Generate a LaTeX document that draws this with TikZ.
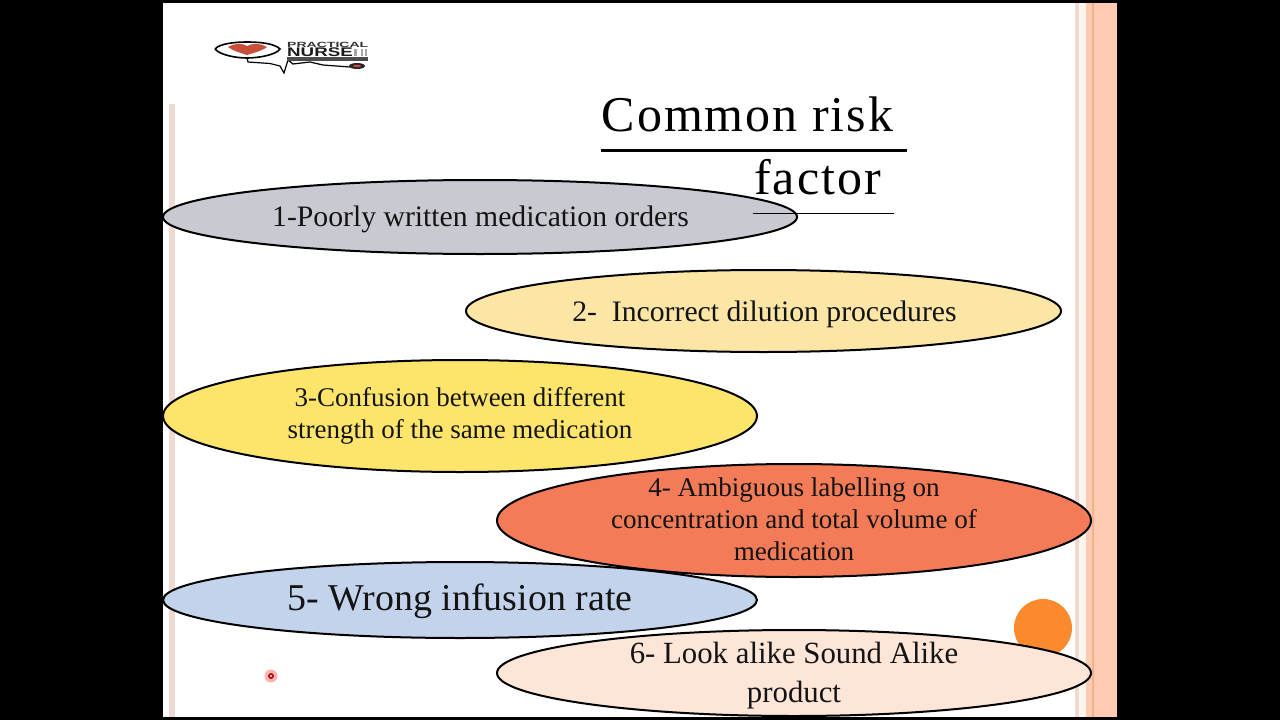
\documentclass[tikz,border=0pt]{standalone}
\usetikzlibrary{shapes.geometric}
\usepackage{fontspec}
\setmainfont{Liberation Serif}
\newfontfamily\logofont{Liberation Sans}
\definecolor{c1}{HTML}{C9C9D1}
\definecolor{c2}{HTML}{FBE6A6}
\definecolor{c3}{HTML}{FDE56C}
\definecolor{c4}{HTML}{F47B58}
\definecolor{c5}{HTML}{C4D3EC}
\definecolor{c6}{HTML}{FDE5D8}
\definecolor{stripeA}{HTML}{EEDAD2}
\definecolor{stripeB}{HTML}{FDCBB2}
\definecolor{stripeC}{HTML}{F3B28F}
\definecolor{stripeD}{HTML}{FFF6F0}
\definecolor{dotc}{HTML}{FB8A2E}
\definecolor{heartc}{HTML}{C8503A}
\begin{document}
\begin{tikzpicture}[x=1pt,y=-1pt,
  oval/.style={ellipse,draw=black,line width=2pt,inner sep=0pt,outer sep=0pt},
  ovaltext/.style={inner sep=0pt,align=center,text=black!92},
  rule/.style={draw=black,line width=3pt},
  thinrule/.style={draw=black,line width=1.8pt},
  titletext/.style={font=\addfontfeature{LetterSpace=4}\fontsize{50}{54}\selectfont,text=black,inner sep=0pt,anchor=base},
  logotext/.style={inner sep=0pt,anchor=west,text=black!80},
]
\useasboundingbox (0,0) rectangle (1280,720);
\fill[black] (0,0) rectangle (1280,720);
\fill[white] (163,3) rectangle (1117,717);
% right-hand stripes
\fill[stripeA] (1075,3) rectangle (1079,717);
\fill[stripeD] (1079,3) rectangle (1086,717);
\fill[stripeB] (1086,3) rectangle (1117,717);
\fill[stripeC] (1092,3) rectangle (1094,717);
% left-hand stripe
\fill[stripeA] (169,104) rectangle (175,717);
% logo
\draw[black,line width=1.6pt] (215,49) .. controls (220,43) and (238,42) .. (247,42) .. controls (258,42) and (274,43) .. (280,49) .. controls (276,55) and (258,58) .. (247,58) .. controls (236,58) and (220,55) .. (215,49);
\fill[heartc] (228,47) .. controls (234,43) and (243,43) .. (247,46) .. controls (252,43) and (261,43) .. (267,47) .. controls (262,51) and (253,53) .. (247,55) .. controls (241,53) and (233,51) .. (228,47);
\draw[black,line width=1.2pt] (247,58) -- (248,62) -- (270,63.5) -- (280,66) -- (284,73) -- (288,60) -- (293,64) -- (310,62) -- (323,65) -- (350,67);
\fill[black!85] (357,66) ellipse (8 and 3);
\fill[heartc] (357,66) ellipse (4 and 1.2);
\node[logotext,font=\logofont\bfseries\fontsize{7.5}{8}\selectfont] (logoa) at (287,44.5) {\scalebox{1.87}[1]{PRACTICAL}};
\node[logotext,font=\logofont\bfseries\fontsize{12.5}{13}\selectfont,text=black!90] (logob) at (287,52) {\scalebox{1.5}[1]{NURSE}};
\fill[black!70] (287,57) rectangle (368,61);
\fill[black!35] (354,48.5) rectangle (357,55.5);
\fill[black!35] (361,48.5) rectangle (363,55.5);
\fill[black!35] (365,48.5) rectangle (367,55.5);
% title
\node[titletext] (t1) at (747.5,131.5) {Common risk};
\node[titletext] (t2) at (817.5,194.5) {factor};
\draw[rule] (601,150) -- (907,150);
% decorative circle
\fill[dotc] (1043,628) circle (29);
% ovals
\node[oval,fill=c1,minimum width=634,minimum height=74] (o1) at (480,217) {};
\node[ovaltext,font=\fontsize{29.7}{34}\selectfont] (l1) at (480.5,219) {1-Poorly written medication orders};
\draw[thinrule] (753,213.5) -- (894,213.5);
\node[oval,fill=c2,minimum width=595,minimum height=82] (o2) at (763.5,311) {};
\node[ovaltext,font=\fontsize{29.7}{34}\selectfont] (l2) at (764.5,314) {2-\,\,\,Incorrect dilution procedures};
\node[oval,fill=c3,minimum width=594,minimum height=112] (o3) at (460,416) {};
\node[ovaltext,font=\fontsize{27}{32}\selectfont] (l3) at (460,416) {3-Confusion between different\\strength of the same medication};
\node[oval,fill=c4,minimum width=594,minimum height=113] (o4) at (794,520.5) {};
\node[ovaltext,font=\fontsize{27.1}{32}\selectfont] (l4) at (794,519.5) {4- Ambiguous labelling on\\concentration and total volume of\\medication};
\node[oval,fill=c5,minimum width=594,minimum height=76] (o5) at (460,600) {};
\node[ovaltext,font=\fontsize{37.9}{42}\selectfont] (l5) at (460,601) {5- Wrong infusion rate};
\node[oval,fill=c6,minimum width=594,minimum height=86] (o6) at (794,673) {};
\node[ovaltext,font=\fontsize{30.8}{39}\selectfont] (l6) at (794,676) {6- Look alike Sound Alike\\product};
% pointer
\fill[red!30!white] (271,676) circle (6.5);
\draw[red!70!black,line width=1.4pt] (271,676) circle (2.2);
\end{tikzpicture}
\end{document}
